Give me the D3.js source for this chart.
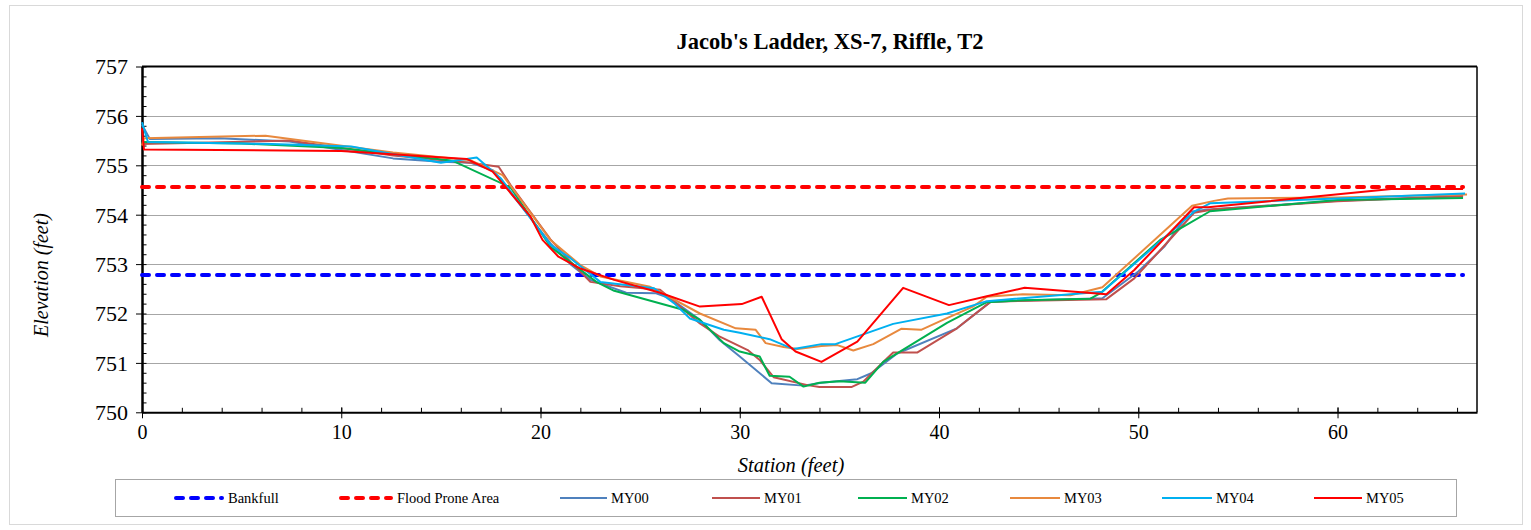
<!DOCTYPE html>
<html>
<head>
<meta charset="utf-8">
<script src="https://cdn.jsdelivr.net/npm/d3@7"></script>
<style>
  html, body { margin: 0; padding: 0; background: #fff; }
  svg { display: block; }
</style>
</head>
<body>
<svg id="chart" width="1531" height="530"></svg>
<script>
// ---------------- DATA ----------------
const chartTitle = "Jacob's Ladder, XS-7, Riffle, T2";
const xAxisTitle = "Station (feet)";
const yAxisTitle = "Elevation (feet)";
const stationTicks = [0, 10, 20, 30, 40, 50, 60];
const elevationTicks = [750, 751, 752, 753, 754, 755, 756, 757];
const stationDomain = [0, 67];
const elevationDomain = [750, 757];

const bankfullElev = 752.78;
const floodProneElev = 754.56;
const referenceStations = [0, 66.3];

const seriesNames = ["MY00", "MY01", "MY02", "MY03", "MY04", "MY05"];

const my00Station = [0, 0.4, 3.9, 7.4, 12.6, 15.0, 16.5, 17.6, 18.3, 20.5, 21.5, 22.5, 23.0, 24.3, 25.8, 26.5, 28.0, 29.0, 30.0, 31.6, 33.2, 34.1, 35.9, 36.6, 37.9, 40.9, 42.6, 48.2, 50.0, 51.3, 52.6, 53.4, 60.0, 66.3];
const my00Elev    = [755.82, 755.53, 755.55, 755.48, 755.14, 755.07, 755.05, 754.90, 754.55, 753.42, 753.00, 752.68, 752.61, 752.42, 752.41, 752.31, 751.87, 751.46, 751.13, 750.59, 750.54, 750.60, 750.67, 750.79, 751.19, 751.70, 752.24, 752.31, 752.85, 753.35, 754.06, 754.10, 754.28, 754.38];

const my01Station = [0, 7.4, 12.6, 16.5, 17.9, 18.5, 20.5, 21.5, 22.5, 24.0, 26.0, 28.0, 29.0, 30.4, 31.0, 31.7, 33.4, 34.0, 35.6, 36.2, 37.2, 37.7, 38.9, 40.9, 42.6, 48.4, 49.8, 51.1, 52.8, 53.8, 60.0, 66.3];
const my01Elev    = [755.43, 755.50, 755.20, 755.05, 754.97, 754.60, 753.50, 753.05, 752.64, 752.55, 752.48, 751.80, 751.53, 751.26, 751.06, 750.71, 750.55, 750.51, 750.51, 750.62, 751.02, 751.21, 751.21, 751.70, 752.24, 752.29, 752.71, 753.28, 754.04, 754.11, 754.27, 754.38];

const my02Station = [0, 5.0, 10.0, 15.6, 18.5, 20.5, 22.8, 23.7, 27.2, 28.0, 29.2, 30.0, 31.0, 31.5, 32.5, 33.2, 34.0, 35.0, 36.3, 37.2, 40.4, 42.4, 44.2, 47.6, 48.1, 51.1, 52.4, 53.6, 60.0, 66.3];
const my02Elev    = [755.47, 755.44, 755.35, 755.09, 754.55, 753.35, 752.64, 752.46, 752.07, 751.87, 751.40, 751.23, 751.13, 750.74, 750.72, 750.52, 750.60, 750.63, 750.60, 751.02, 751.81, 752.23, 752.27, 752.30, 752.41, 753.49, 753.79, 754.07, 754.30, 754.34];

const my03Station = [0, 0.1, 6.2, 12.6, 16.5, 18.1, 20.5, 22.0, 23.0, 25.5, 26.0, 28.0, 29.8, 30.8, 31.3, 32.2, 32.9, 34.1, 34.9, 35.7, 36.7, 38.1, 39.1, 40.2, 41.7, 42.4, 44.2, 46.6, 48.2, 52.7, 53.8, 54.5, 60.0, 66.5];
const my03Elev    = [755.40, 755.55, 755.60, 755.26, 755.10, 754.80, 753.49, 752.98, 752.75, 752.54, 752.44, 752.00, 751.70, 751.67, 751.40, 751.32, 751.28, 751.34, 751.36, 751.25, 751.38, 751.69, 751.67, 751.87, 752.14, 752.34, 752.39, 752.37, 752.53, 754.18, 754.28, 754.33, 754.35, 754.41];

const my04Station = [0, 0.3, 6.5, 10.5, 15.0, 16.8, 18.0, 20.5, 21.5, 23.0, 25.7, 26.7, 27.5, 29.2, 30.0, 31.5, 32.7, 34.1, 34.8, 37.7, 40.4, 42.4, 46.6, 48.2, 52.8, 53.6, 60.0, 66.4];
const my04Elev    = [755.87, 755.47, 755.43, 755.38, 755.05, 755.16, 754.74, 753.39, 753.12, 752.64, 752.51, 752.21, 751.90, 751.67, 751.61, 751.48, 751.28, 751.38, 751.38, 751.79, 752.00, 752.25, 752.39, 752.44, 754.06, 754.23, 754.33, 754.43];

const my05Station = [0, 0.1, 10.0, 16.3, 17.6, 19.5, 20.1, 20.9, 22.0, 23.7, 26.0, 28.0, 30.1, 31.1, 32.1, 32.8, 34.1, 35.9, 38.2, 40.5, 42.4, 44.3, 48.4, 49.8, 52.8, 53.5, 62.7, 66.3];
const my05Elev    = [755.75, 755.32, 755.29, 755.13, 754.87, 753.96, 753.49, 753.15, 752.91, 752.68, 752.42, 752.14, 752.19, 752.34, 751.48, 751.23, 751.02, 751.43, 752.52, 752.17, 752.35, 752.52, 752.39, 752.88, 754.15, 754.15, 754.52, 754.52];

const seriesColors = ["#4F81BD", "#C0504D", "#00B050", "#E8893E", "#00B0F0", "#FF0000"];
const legendLabels = ["Bankfull", "Flood Prone Area", "MY00", "MY01", "MY02", "MY03", "MY04", "MY05"];

// ---------------- BUILD ----------------
const seriesTable = [
  [my00Station, my00Elev], [my01Station, my01Elev], [my02Station, my02Elev],
  [my03Station, my03Elev], [my04Station, my04Elev], [my05Station, my05Elev]
].map(([s, e], i) => ({
  name: seriesNames[i], color: seriesColors[i],
  points: s.map((st, j) => ({ x: st, y: e[j] }))
}));

const svg = d3.select("#chart");
const serif = "'Liberation Serif', 'Times New Roman', serif";

const L = 142, R = 1477, T = 66.5, B = 412.3;
const x = d3.scaleLinear().domain(stationDomain).range([L, R]);
const y = d3.scaleLinear().domain(elevationDomain).range([B, T]);

// outer border
svg.append("rect").attr("x", 9.5).attr("y", 5.5).attr("width", 1513).attr("height", 519)
  .attr("fill", "#fff").attr("stroke", "#D9D9D9").attr("stroke-width", 1);

// title
svg.append("text").attr("x", 830).attr("y", 49).attr("text-anchor", "middle")
  .attr("font-family", serif).attr("font-weight", "bold").attr("font-size", 22.5)
  .text(chartTitle);

// gridlines
svg.append("g").selectAll("line").data(elevationTicks.filter(v => v > elevationDomain[0] && v < elevationDomain[1]))
  .join("line").attr("x1", L).attr("x2", R)
  .attr("y1", d => Math.round(y(d)) + 0.5).attr("y2", d => Math.round(y(d)) + 0.5)
  .attr("stroke", "#A6A6A6").attr("stroke-width", 1);

// plot frame (top/right)
svg.append("line").attr("x1", L).attr("x2", R).attr("y1", T).attr("y2", T).attr("stroke", "#000").attr("stroke-width", 2);
svg.append("line").attr("x1", R).attr("x2", R).attr("y1", T).attr("y2", B).attr("stroke", "#000").attr("stroke-width", 1.5);

// minor ticks
const minorX = d3.range(stationDomain[0], stationDomain[1] + 0.001, 2);
const minorY = d3.range(0, 36).map(i => elevationDomain[0] + i * 0.2);
const xMinor = d3.axisBottom(x).tickValues(minorX).tickSize(-4.5).tickFormat("");
const yMinor = d3.axisLeft(y).tickValues(minorY).tickSize(-4.5).tickFormat("");
svg.append("g").attr("transform", `translate(0,${B})`).call(xMinor)
  .call(g => g.select(".domain").remove()).selectAll("line").attr("stroke", "#000");
svg.append("g").attr("transform", `translate(${L},0)`).call(yMinor)
  .call(g => g.select(".domain").remove()).selectAll("line").attr("stroke", "#000");

// major axes
const xAxis = d3.axisBottom(x).tickValues(stationTicks).tickFormat(d3.format("d")).tickSize(6).tickPadding(7).tickSizeOuter(0);
const yAxis = d3.axisLeft(y).tickValues(elevationTicks).tickFormat(d3.format("d")).tickSize(6).tickPadding(8).tickSizeOuter(0);
const gx = svg.append("g").attr("transform", `translate(0,${B})`).call(xAxis);
gx.select(".domain").attr("stroke", "#000").attr("stroke-width", 2);
gx.selectAll(".tick line").attr("stroke", "#000").attr("y1", -5);
gx.selectAll("text").attr("font-family", serif).attr("font-size", 20).attr("fill", "#000");
const gy = svg.append("g").attr("transform", `translate(${L},0)`).call(yAxis);
gy.select(".domain").attr("stroke", "#000").attr("stroke-width", 2.5);
gy.selectAll(".tick line").attr("stroke", "#000");
gy.selectAll("text").attr("font-family", serif).attr("font-size", 22).attr("fill", "#000").attr("dy", "0.34em");

// axis titles
svg.append("text").attr("x", 791).attr("y", 472).attr("text-anchor", "middle")
  .attr("font-family", serif).attr("font-style", "italic").attr("font-size", 20.5).text(xAxisTitle);
svg.append("text").attr("transform", "translate(48,275) rotate(-90)").attr("text-anchor", "middle")
  .attr("font-family", serif).attr("font-style", "italic").attr("font-size", 20).text(yAxisTitle);

// reference dashed lines
const refLines = [
  { elev: bankfullElev, color: "#0000FF" },
  { elev: floodProneElev, color: "#FF0000" }
];
svg.append("g").selectAll("line").data(refLines).join("line")
  .attr("x1", x(referenceStations[0])).attr("x2", x(referenceStations[1]))
  .attr("y1", d => y(d.elev)).attr("y2", d => y(d.elev))
  .attr("stroke", d => d.color).attr("stroke-width", 4)
  .attr("stroke-dasharray", "7 8").attr("stroke-linecap", "round");

// series lines
const line = d3.line().x(d => x(d.x)).y(d => y(d.y));
svg.append("g").selectAll("path").data(seriesTable).join("path")
  .attr("d", d => line(d.points)).attr("fill", "none")
  .attr("stroke", d => d.color).attr("stroke-width", 2).attr("stroke-linejoin", "round");

// legend
svg.append("rect").attr("x", 115.5).attr("y", 479.5).attr("width", 1341).attr("height", 37)
  .attr("fill", "#fff").attr("stroke", "#A6A6A6").attr("stroke-width", 1);
const legendStarts = [174, 339, 560, 712, 858, 1010, 1162, 1314];
const legendTextX = [228, 397, 611, 764, 911, 1064, 1216, 1366];
const legendItems = legendLabels.map((lab, i) => ({
  label: lab,
  color: i === 0 ? "#0000FF" : i === 1 ? "#FF0000" : seriesColors[i - 2],
  dashed: i < 2,
  x0: legendStarts[i],
  tx: legendTextX[i]
}));
const lg = svg.append("g").selectAll("g").data(legendItems).join("g");
lg.append("line").attr("x1", d => d.x0 + (d.dashed ? 2 : 0)).attr("x2", d => d.tx - (d.dashed ? 6 : 4))
  .attr("y1", 498).attr("y2", 498).attr("stroke", d => d.color)
  .attr("stroke-width", d => d.dashed ? 4 : 2)
  .attr("stroke-dasharray", d => d.dashed ? "7 8" : null)
  .attr("stroke-linecap", d => d.dashed ? "round" : "butt");
lg.append("text").attr("x", d => d.tx).attr("y", 498).attr("dy", "0.35em")
  .attr("font-family", serif).attr("font-size", 14.5).text(d => d.label);
</script>
</body>
</html>
